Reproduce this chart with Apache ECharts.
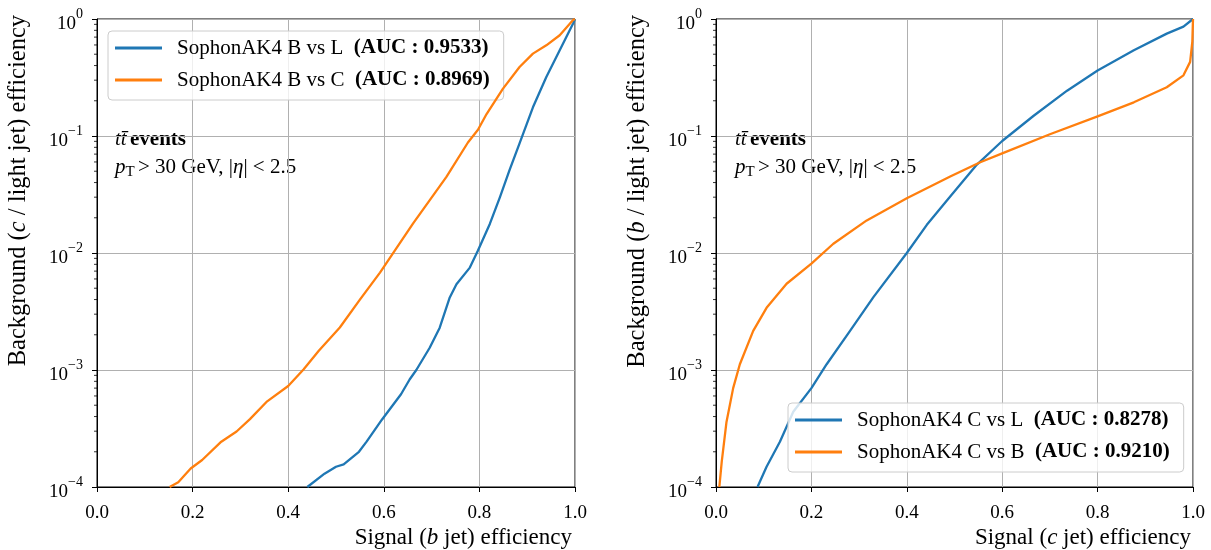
<!DOCTYPE html>
<html><head><meta charset="utf-8">
<script src="https://cdn.jsdelivr.net/npm/echarts@6/dist/echarts.min.js"></script>
<style>html,body{margin:0;padding:0;background:#fff}#c{width:1211px;height:550px}</style>
</head><body><div id="c"></div>
<script>
// ---- data ----
const xTicks = [0.0, 0.2, 0.4, 0.6, 0.8, 1.0];
const yDecades = [1e-4, 1e-3, 1e-2, 1e-1, 1];

const leftBL_x = [0.44, 0.476, 0.5, 0.516, 0.548, 0.564, 0.596, 0.636, 0.654, 0.668, 0.696, 0.717, 0.738, 0.752, 0.78, 0.797, 0.822, 0.843, 0.863, 0.884, 0.912, 0.94, 0.968, 0.996, 1.0];
const leftBL_y = [1e-4, 1.3e-4, 1.49e-4, 1.56e-4, 2.0e-4, 2.44e-4, 3.76e-4, 6.2e-4, 8.3e-4, 1.0e-3, 1.55e-3, 2.3e-3, 4.17e-3, 5.4e-3, 7.5e-3, 1.05e-2, 1.78e-2, 3.0e-2, 5.1e-2, 8.65e-2, 0.176, 0.319, 0.54, 0.915, 1.0];

const leftBC_x = [0.152, 0.17, 0.196, 0.22, 0.26, 0.292, 0.32, 0.356, 0.4, 0.432, 0.464, 0.508, 0.55, 0.592, 0.661, 0.731, 0.776, 0.797, 0.815, 0.849, 0.884, 0.912, 0.94, 0.968, 0.996, 1.0];
const leftBC_y = [1e-4, 1.1e-4, 1.44e-4, 1.7e-4, 2.44e-4, 2.98e-4, 3.8e-4, 5.4e-4, 7.3e-4, 1.01e-3, 1.46e-3, 2.31e-3, 4.0e-3, 6.8e-3, 1.78e-2, 4.47e-2, 0.088, 0.113, 0.154, 0.253, 0.389, 0.506, 0.596, 0.726, 0.98, 1.0];

const rightCL_x = [0.087, 0.106, 0.134, 0.162, 0.2, 0.232, 0.281, 0.33, 0.4, 0.442, 0.491, 0.547, 0.6, 0.666, 0.736, 0.8, 0.876, 0.945, 0.98, 1.0];
const rightCL_y = [1e-4, 1.49e-4, 2.44e-4, 4.4e-4, 7.0e-4, 1.12e-3, 2.16e-3, 4.2e-3, 1.0e-2, 1.74e-2, 3.04e-2, 5.7e-2, 9.06e-2, 0.149, 0.244, 0.363, 0.54, 0.75, 0.86, 1.0];

const rightCB_x = [0.007, 0.012, 0.022, 0.036, 0.05, 0.078, 0.106, 0.148, 0.2, 0.246, 0.316, 0.4, 0.491, 0.554, 0.6, 0.7, 0.8, 0.876, 0.945, 0.98, 0.994, 0.9986, 1.0];
const rightCB_y = [1e-4, 1.64e-4, 3.6e-4, 7.0e-4, 1.12e-3, 2.16e-3, 3.4e-3, 5.46e-3, 8.1e-3, 1.2e-2, 1.9e-2, 2.94e-2, 4.5e-2, 5.97e-2, 7.1e-2, 0.1035, 0.147, 0.194, 0.261, 0.33, 0.43, 0.64, 1.0];

const seriesNames = ['SophonAK4 B vs L', 'SophonAK4 B vs C', 'SophonAK4 C vs L', 'SophonAK4 C vs B'];
const aucValues = ['0.9533', '0.8969', '0.8278', '0.9210'];

// ---- chart ----
const FONT = 'Liberation Serif';
const BLUE = '#1f77b4', ORANGE = '#ff7f0e';
const zip = (xs, ys) => xs.map((x, i) => [x, ys[i]]);
const minorVals = [];
yDecades.slice(0, -1).forEach(d => { for (let k = 2; k <= 9; k++) minorVals.push([0, d * k]); });

function xAxis(gi) {
  return {
    type: 'value', gridIndex: gi, min: 0, max: 1, interval: 0.2,
    axisLine: { show: true, onZero: false, lineStyle: { color: '#000', width: 1 } },
    axisTick: { show: true, inside: false, length: 5, lineStyle: { color: '#000', width: 1 } },
    axisLabel: { color: '#000', fontFamily: FONT, fontSize: 19, margin: 17, formatter: v => v.toFixed(1) },
    splitLine: { show: true, lineStyle: { color: '#b0b0b0', width: 1 } }
  };
}
function yAxis(gi) {
  return {
    type: 'log', logBase: 10, gridIndex: gi, min: 1e-4, max: 1,
    axisLine: { show: true, lineStyle: { color: '#000', width: 1 } },
    axisTick: { show: true, inside: false, length: 5, lineStyle: { color: '#000', width: 1 } },
    axisLabel: {
      color: '#000', fontFamily: FONT, fontSize: 19, margin: 14,
      formatter: v => { const e = Math.round(Math.log10(v)); return '{b|10}{s|' + (e < 0 ? '\u2212' + (-e) : e) + '}'; },
      rich: {
        b: { fontFamily: FONT, fontSize: 19, color: '#000', lineHeight: 30, verticalAlign: 'bottom' },
        s: { fontFamily: FONT, fontSize: 14, color: '#000', lineHeight: 30, verticalAlign: 'top', padding: [3, 0, 0, 0] }
      }
    },
    splitLine: { show: true, lineStyle: { color: '#b0b0b0', width: 1 } }
  };
}
function lineSeries(name, xs, ys, color, gi) {
  return { type: 'line', name: name, xAxisIndex: gi, yAxisIndex: gi, data: zip(xs, ys), showSymbol: false, symbol: 'none',
    lineStyle: { color: color, width: 2.3, join: 'round' }, itemStyle: { color: color }, animation: false, z: color === ORANGE ? 4 : 3 };
}
function minorTicks(gi) {
  return { type: 'custom', xAxisIndex: gi, yAxisIndex: gi, data: minorVals, silent: true, animation: false, clip: false, z: 5,
    renderItem: (params, api) => {
      const p = api.coord([0, api.value(1)]);
      return { type: 'line', shape: { x1: p[0] - 3, y1: p[1], x2: p[0], y2: p[1] }, style: { stroke: '#000', lineWidth: 0.8 } };
    } };
}
function legend(names, pos) {
  return Object.assign({
    orient: 'vertical', data: names, icon: 'rect', itemWidth: 47, itemHeight: 3, itemGap: 8,
    backgroundColor: 'rgba(255,255,255,0.8)', borderColor: '#cccccc', borderWidth: 1, borderRadius: 4,
    padding: [5, 14, 8, 7],
    textStyle: { color: '#000', fontFamily: FONT, fontSize: 21, lineHeight: 24, padding: [0, 0, 0, 10],
      rich: { b: { fontFamily: FONT, fontSize: 21, lineHeight: 24, fontWeight: 'bold', color: '#000' } } },
    formatter: n => n + '  {b|(AUC : ' + aucValues[seriesNames.indexOf(n)] + ')}'
  }, pos);
}
function annot(x, y) {
  return [
    { type: 'text', left: x, top: y, style: { text: '{i|tt\u0304} {b|events}', rich: {
      i: { fontFamily: FONT, fontSize: 21, fontStyle: 'italic', fill: '#000' },
      b: { fontFamily: FONT, fontSize: 21, fontWeight: 'bold', fill: '#000' } } } },
    { type: 'text', left: x, top: y + 28, style: { text: '{i|p}{s|T} {n|> 30 GeV, |}{i|\u03b7}{n|| < 2.5}', rich: {
      i: { fontFamily: FONT, fontSize: 21, fontStyle: 'italic', fill: '#000' },
      s: { fontFamily: FONT, fontSize: 15, fill: '#000', verticalAlign: 'bottom', padding: [9, 0, 0, 0] },
      n: { fontFamily: FONT, fontSize: 21, fill: '#000' } } } }
  ];
}
function xTitle(rightEdge, letter) {
  return { type: 'text', right: 1211 - rightEdge, top: 526, style: { text: 'Signal ({i|' + letter + '} jet) efficiency',
    fill: '#000', font: '23px "' + FONT + '"', rich: {
      i: { fontFamily: FONT, fontSize: 23, fontStyle: 'italic', fill: '#000' } } } };
}
function yTitle(cx, letter) {
  return { type: 'text', x: cx, y: 15, rotation: Math.PI / 2, style: { text: 'Background ({i|' + letter + '} / light jet) efficiency',
    fill: '#000', font: '24.5px "' + FONT + '"', align: 'right', verticalAlign: 'middle', rich: {
      i: { fontFamily: FONT, fontSize: 24.5, fontStyle: 'italic', fill: '#000' } } } };
}

const chart = echarts.init(document.getElementById('c'), null, { renderer: 'canvas' });
chart.setOption({
  animation: false,
  backgroundColor: '#fff',
  grid: [
    { left: 97, top: 19, width: 478, height: 468, show: true, borderColor: '#000', borderWidth: 1, backgroundColor: 'transparent', outerBoundsMode: 'none', containLabel: false },
    { left: 716, top: 19, width: 477, height: 468, show: true, borderColor: '#000', borderWidth: 1, backgroundColor: 'transparent', outerBoundsMode: 'none', containLabel: false }
  ],
  xAxis: [xAxis(0), xAxis(1)],
  yAxis: [yAxis(0), yAxis(1)],
  legend: [
    legend([seriesNames[0], seriesNames[1]], { left: 108, top: 31 }),
    legend([seriesNames[2], seriesNames[3]], { left: 788, top: 403 })
  ],
  series: [
    lineSeries(seriesNames[0], leftBL_x, leftBL_y, BLUE, 0),
    lineSeries(seriesNames[1], leftBC_x, leftBC_y, ORANGE, 0),
    lineSeries(seriesNames[2], rightCL_x, rightCL_y, BLUE, 1),
    lineSeries(seriesNames[3], rightCB_x, rightCB_y, ORANGE, 1),
    minorTicks(0), minorTicks(1)
  ],
  graphic: annot(115, 129).concat(annot(735, 129)).concat([
    xTitle(572, 'b'), xTitle(1191, 'c'), yTitle(19, 'c'), yTitle(638, 'b')
  ])
});
</script></body></html>
